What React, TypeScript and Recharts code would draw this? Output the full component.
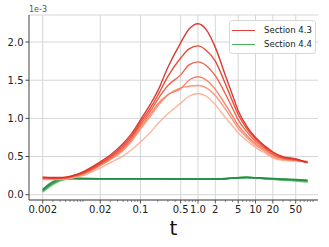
import React from 'react';
import { LineChart, Line, XAxis, YAxis, CartesianGrid, ReferenceLine, Legend } from 'recharts';

// time grid (log axis)
const T = [0.002, 0.003, 0.004, 0.005, 0.007, 0.01, 0.02, 0.03, 0.05, 0.07, 0.1, 0.15, 0.2, 0.3, 0.5, 0.7, 1.0, 1.4, 2, 3, 4, 5, 7, 10, 15, 20, 30, 50, 80];

// Section 4.3 curves (units of 1e-3)
const redA = [0.23, 0.225, 0.225, 0.23, 0.255, 0.30, 0.43, 0.52, 0.67, 0.80, 0.98, 1.19, 1.36, 1.67, 1.99, 2.17, 2.24, 2.16, 1.93, 1.56, 1.30, 1.10, 0.90, 0.75, 0.63, 0.56, 0.50, 0.47, 0.42];
const redB = [0.225, 0.22, 0.22, 0.225, 0.25, 0.29, 0.415, 0.50, 0.645, 0.77, 0.95, 1.14, 1.30, 1.55, 1.79, 1.91, 1.95, 1.89, 1.75, 1.45, 1.22, 1.05, 0.87, 0.73, 0.62, 0.55, 0.49, 0.465, 0.42];
const redC = [0.22, 0.215, 0.215, 0.22, 0.245, 0.28, 0.40, 0.485, 0.62, 0.745, 0.92, 1.10, 1.25, 1.43, 1.57, 1.70, 1.74, 1.69, 1.56, 1.32, 1.13, 0.98, 0.83, 0.70, 0.60, 0.53, 0.48, 0.455, 0.42];
const redD = [0.215, 0.21, 0.21, 0.215, 0.24, 0.27, 0.39, 0.47, 0.60, 0.72, 0.89, 1.06, 1.19, 1.31, 1.39, 1.50, 1.545, 1.50, 1.38, 1.18, 1.03, 0.91, 0.78, 0.67, 0.58, 0.52, 0.47, 0.45, 0.43];
const redE = [0.21, 0.205, 0.205, 0.21, 0.235, 0.265, 0.38, 0.46, 0.58, 0.70, 0.86, 1.03, 1.16, 1.31, 1.40, 1.42, 1.43, 1.40, 1.30, 1.12, 0.98, 0.87, 0.75, 0.65, 0.56, 0.50, 0.46, 0.45, 0.44];
const redF = [0.20, 0.20, 0.20, 0.205, 0.225, 0.25, 0.35, 0.42, 0.51, 0.59, 0.69, 0.82, 0.93, 1.06, 1.20, 1.29, 1.325, 1.29, 1.18, 1.01, 0.90, 0.81, 0.71, 0.62, 0.54, 0.48, 0.45, 0.44, 0.43];

// Section 4.4 curves (units of 1e-3)
const grnA = [0.07, 0.17, 0.205, 0.215, 0.215, 0.212, 0.21, 0.21, 0.21, 0.21, 0.21, 0.21, 0.21, 0.208, 0.207, 0.207, 0.205, 0.205, 0.207, 0.21, 0.215, 0.22, 0.225, 0.222, 0.216, 0.212, 0.205, 0.20, 0.19];
const grnB = [0.06, 0.16, 0.20, 0.213, 0.214, 0.211, 0.209, 0.209, 0.209, 0.209, 0.209, 0.209, 0.209, 0.207, 0.206, 0.206, 0.204, 0.204, 0.206, 0.21, 0.216, 0.221, 0.226, 0.222, 0.214, 0.21, 0.202, 0.196, 0.185];
const grnC = [0.05, 0.15, 0.195, 0.21, 0.213, 0.21, 0.208, 0.208, 0.208, 0.208, 0.208, 0.208, 0.208, 0.206, 0.205, 0.205, 0.203, 0.203, 0.206, 0.21, 0.217, 0.222, 0.227, 0.222, 0.212, 0.208, 0.199, 0.192, 0.18];
const grnD = [0.045, 0.145, 0.19, 0.208, 0.212, 0.21, 0.208, 0.208, 0.208, 0.208, 0.208, 0.208, 0.208, 0.206, 0.205, 0.205, 0.203, 0.203, 0.206, 0.211, 0.218, 0.223, 0.228, 0.222, 0.21, 0.206, 0.196, 0.188, 0.175];
const grnE = [0.04, 0.14, 0.185, 0.205, 0.211, 0.209, 0.207, 0.207, 0.207, 0.207, 0.207, 0.207, 0.207, 0.205, 0.204, 0.204, 0.202, 0.202, 0.205, 0.211, 0.219, 0.224, 0.229, 0.221, 0.208, 0.204, 0.193, 0.184, 0.17];
const grnF = [0.035, 0.13, 0.18, 0.20, 0.21, 0.209, 0.207, 0.207, 0.207, 0.207, 0.207, 0.207, 0.207, 0.205, 0.204, 0.204, 0.202, 0.202, 0.205, 0.212, 0.22, 0.225, 0.23, 0.221, 0.206, 0.202, 0.19, 0.18, 0.165];

const majorTicks = [0.002, 0.02, 0.1, 0.5, 1.0, 2, 5, 10, 20, 50];
const majorLabels = ['0.002', '0.02', '0.1', '0.5', '1.0', '2', '5', '10', '20', '50'];
const minorTicks = [0.003, 0.004, 0.005, 0.006, 0.007, 0.008, 0.009, 0.01, 0.03, 0.04, 0.05, 0.06, 0.07, 0.08, 0.09, 0.2, 0.3, 0.4, 0.6, 0.7, 0.8, 0.9, 3, 4, 6, 7, 8, 9, 30, 40, 60, 70, 80, 90, 100];
const yTicks = [0, 0.5, 1.0, 1.5, 2.0];

const redKeys = ['a', 'b', 'c', 'd', 'e', 'f'];
const redSeries = [redA, redB, redC, redD, redE, redF];
const redColors = ['#d7302a', '#e6422f', '#f35a40', '#fb7a5a', '#fc9474', '#fcb095'];
const grnKeys = ['g1', 'g2', 'g3', 'g4', 'g5', 'g6'];
const grnSeries = [grnA, grnB, grnC, grnD, grnE, grnF];
const grnColors = ['#238b45', '#2e9a4f', '#41ab5d', '#5cb86b', '#74c476', '#8fd18a'];

const legendItems = [
  { label: 'Section 4.3', color: '#e0413a' },
  { label: 'Section 4.4', color: '#4caf5a' },
];

const data = T.map((t, i) => {
  const row: any = { t };
  redKeys.forEach((k, j) => (row[k] = redSeries[j][i]));
  grnKeys.forEach((k, j) => (row[k] = grnSeries[j][i]));
  return row;
});

const allXTicks = [...majorTicks, ...minorTicks].sort((a, b) => a - b);

const FONT = 'DejaVu Sans';

const XTick = (props: any) => {
  const { x, y, payload } = props;
  const idx = majorTicks.indexOf(payload.value);
  const isMajor = idx >= 0;
  return (
    <g>
      <line x1={x} x2={x} y1={y} y2={y + (isMajor ? 3.5 : 2)} stroke="#444" strokeWidth={isMajor ? 0.9 : 0.6} />
      {isMajor && (
        <text x={x} y={y + 13.3} textAnchor="middle" fontSize={10} fontFamily={FONT} fill="#222">
          {majorLabels[idx]}
        </text>
      )}
    </g>
  );
};

const LegendBox = () => (
  <div
    style={{
      width: 87,
      height: 34,
      boxSizing: 'border-box',
      border: '1px solid #d8d8d8',
      borderRadius: 3,
      background: 'rgba(255,255,255,0.85)',
      fontFamily: FONT,
      fontSize: 8.5,
      color: '#222',
      position: 'relative',
    }}
  >
    {legendItems.map((it, i) => (
      <div
        key={it.label}
        style={{ position: 'absolute', left: 2, top: 3 + i * 14, height: 12, display: 'flex', alignItems: 'center', whiteSpace: 'nowrap' }}
      >
        <div style={{ width: 23, height: 0, borderTop: `1.5px solid ${it.color}` }} />
        <span style={{ marginLeft: 9, lineHeight: '12px' }}>{it.label}</span>
      </div>
    ))}
  </div>
);

export default function App() {
  return (
    <div style={{ position: 'absolute', left: 0, top: 0, width: 329, height: 247, background: '#fff' }}>
      <div style={{ position: 'absolute', left: 29, top: 5, fontFamily: FONT, fontSize: 8, color: '#555' }}>1e-3</div>
      <LineChart width={329} height={247} data={data} margin={{ top: 15, right: 11, left: 0, bottom: 0 }}>
        <CartesianGrid horizontal vertical={false} stroke="#d6d6d6" strokeWidth={1} />
        {majorTicks.map((t) => (
          <ReferenceLine key={t} x={t} stroke="#d6d6d6" strokeWidth={1} />
        ))}
        <XAxis
          dataKey="t"
          type="number"
          scale="log"
          domain={[0.001156, 121.9]}
          allowDataOverflow
          ticks={allXTicks}
          interval={0}
          tick={<XTick />}
          tickLine={false}
          tickSize={0}
          tickMargin={0}
          height={47}
          stroke="#444"
          label={{ value: 't', position: 'insideBottom', offset: 12, fontSize: 20, fontFamily: FONT, fill: '#111' }}
        />
        <XAxis xAxisId="top" orientation="top" type="number" scale="log" domain={[0.001156, 121.9]} allowDataOverflow height={0} tick={false} tickLine={false} stroke="#444" />
        <YAxis
          type="number"
          domain={[-0.069, 2.354]}
          allowDataOverflow
          ticks={yTicks}
          interval={0}
          width={29}
          tickSize={3.5}
          tickMargin={2}
          stroke="#444"
          tick={{ fontSize: 10, fontFamily: FONT, fill: '#222' }}
          tickFormatter={(v: number) => v.toFixed(1)}
        />
        <YAxis yAxisId="right" orientation="right" type="number" domain={[-0.069, 2.354]} width={0} tick={false} tickLine={false} stroke="#444" />
        {grnKeys.map((k, j) => (
          <Line key={k} dataKey={k} type="monotone" stroke={grnColors[j]} strokeWidth={1.5} strokeOpacity={0.9} dot={false} isAnimationActive={false} />
        )).reverse()}
        {redKeys.map((k, j) => (
          <Line key={k} dataKey={k} type="monotone" stroke={redColors[j]} strokeWidth={1.4} strokeOpacity={0.95} dot={false} isAnimationActive={false} />
        )).reverse()}
        <Legend layout="vertical" align="center" verticalAlign="middle" wrapperStyle={{ left: 229, top: 20, width: 87, height: 34 }} content={() => <LegendBox />} />
      </LineChart>
    </div>
  );
}
